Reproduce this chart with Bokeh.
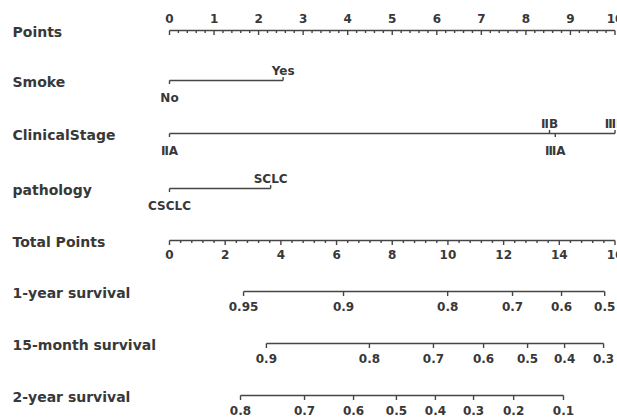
from bokeh.plotting import figure
from bokeh.models import Range1d, ColumnDataSource
from bokeh.core.properties import value
from bokeh.embed import file_html
from bokeh.resources import INLINE

# ---------------- data ----------------
row_names = ["Points", "Smoke", "ClinicalStage", "pathology", "Total Points",
             "1-year survival", "15-month survival", "2-year survival"]

points_ticks = [0, 1, 2, 3, 4, 5, 6, 7, 8, 9, 10]

smoke_levels = ["No", "Yes"]
smoke_points = [0.0, 2.55]

stage_levels = ["\u2161A", "\u2161B", "\u2162A", "\u2162B"]
stage_points = [0.0, 8.53, 8.66, 10.0]

path_levels = ["CSCLC", "SCLC"]
path_points = [0.0, 2.27]

total_ticks = [0, 2, 4, 6, 8, 10, 12, 14, 16]
total_max = 16

surv1_labels = ["0.95", "0.9", "0.8", "0.7", "0.6", "0.5"]
surv1_total = [2.66, 6.25, 9.99, 12.32, 14.08, 15.63]

surv15_labels = ["0.9", "0.8", "0.7", "0.6", "0.5", "0.4", "0.3"]
surv15_total = [3.48, 7.18, 9.48, 11.28, 12.86, 14.19, 15.59]

surv2_labels = ["0.8", "0.7", "0.6", "0.5", "0.4", "0.3", "0.2", "0.1"]
surv2_total = [2.55, 4.85, 6.61, 8.15, 9.55, 10.92, 12.36, 14.15]

# ---------------- layout / style ----------------
W, H = 617, 418
PX_PER_PT = 44.55
X0_PX = 169
row_y = [30, 80, 133, 188, 240, 291, 343, 395]
LABEL_X_PX = 12
LINE_COLOR = "#454545"
TEXT_COLOR = "#383838"
FONT = value("DejaVu Sans")
ROW_FS = "14px"
TICK_FS = "12px"
MAJ, MIN = 4.5, 2.5

p = figure(width=W, height=H, output_backend="svg", toolbar_location=None,
           x_range=Range1d(-X0_PX / PX_PER_PT, (W - X0_PX) / PX_PER_PT),
           y_range=Range1d(H, 0), min_border=0)
p.axis.visible = False
p.xaxis.visible = False
p.yaxis.visible = False
p.grid.visible = False
p.outline_line_color = None
p.background_fill_color = "white"
p.border_fill_color = "white"

tp2pts = 10.0 / total_max

seg = dict(x0=[], y0=[], x1=[], y1=[])
txt = dict(x=[], y=[], t=[])


def add_seg(x0, y0, x1, y1):
    seg["x0"].append(x0); seg["y0"].append(y0)
    seg["x1"].append(x1); seg["y1"].append(y1)


def add_txt(x, y, t):
    txt["x"].append(x); txt["y"].append(y); txt["t"].append(t)


# row labels
rl = dict(x=[(LABEL_X_PX - X0_PX) / PX_PER_PT] * len(row_names),
          y=[yy + 1 for yy in row_y], t=row_names)
p.text(x="x", y="y", text="t", source=ColumnDataSource(rl),
       text_font=FONT, text_font_size=ROW_FS, text_font_style="bold",
       text_color=TEXT_COLOR, text_align="left", text_baseline="middle")

# Points axis (labels above, ticks down)
y = row_y[0]
add_seg(points_ticks[0], y, points_ticks[-1], y)
for v in points_ticks:
    add_seg(v, y, v, y + MAJ)
    add_txt(v, y - 12, str(v))
n_minor = int(round((points_ticks[-1] - points_ticks[0]) / 0.2))
for i in range(n_minor + 1):
    v = points_ticks[0] + i * 0.2
    if abs(v - round(v)) > 1e-6:
        add_seg(v, y, v, y + MIN)


# categorical axes
def cat_axis(yrow, levels, pts):
    add_seg(min(pts), yrow, max(pts), yrow)
    for i, (lab, v) in enumerate(zip(levels, pts)):
        if i % 2 == 0:  # below
            add_seg(v, yrow, v, yrow + 3.5)
            add_txt(v, yrow + 17, lab)
        else:  # above
            add_seg(v, yrow, v, yrow - 3.5)
            add_txt(v, yrow - 10, lab)


cat_axis(row_y[1], smoke_levels, smoke_points)
cat_axis(row_y[2], stage_levels, stage_points)
cat_axis(row_y[3], path_levels, path_points)

# Total points axis (labels below, ticks down)
y = row_y[4]
add_seg(total_ticks[0] * tp2pts, y, total_ticks[-1] * tp2pts, y)
for v in total_ticks:
    add_seg(v * tp2pts, y, v * tp2pts, y + MAJ)
    add_txt(v * tp2pts, y + 14, str(v))
n_minor = int(round((total_ticks[-1] - total_ticks[0]) / 0.4))
for i in range(n_minor + 1):
    v = total_ticks[0] + i * 0.4
    if min(abs(v - t) for t in total_ticks) > 1e-6:
        add_seg(v * tp2pts, y, v * tp2pts, y + MIN)


# survival axes
def surv_axis(yrow, labels, totals):
    xs = [t * tp2pts for t in totals]
    add_seg(min(xs), yrow, max(xs), yrow)
    for lab, xv in zip(labels, xs):
        add_seg(xv, yrow, xv, yrow + MAJ)
        add_txt(xv, yrow + 15, lab)


surv_axis(row_y[5], surv1_labels, surv1_total)
surv_axis(row_y[6], surv15_labels, surv15_total)
surv_axis(row_y[7], surv2_labels, surv2_total)

p.segment(x0="x0", y0="y0", x1="x1", y1="y1", source=ColumnDataSource(seg),
          line_color=LINE_COLOR, line_width=1.4)
p.text(x="x", y="y", text="t", source=ColumnDataSource(txt),
       text_font=FONT, text_font_size=TICK_FS, text_font_style="bold",
       text_color=TEXT_COLOR, text_align="center", text_baseline="middle")

open("out.html", "w").write(file_html(p, INLINE))
